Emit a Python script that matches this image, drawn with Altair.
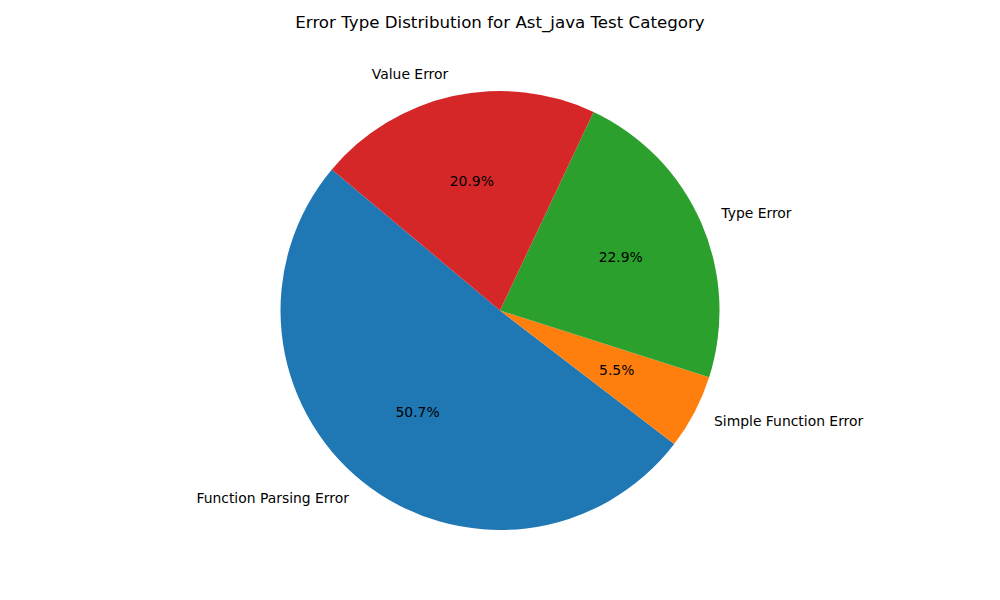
import altair as alt
import pandas as pd

labels = ["Function Parsing Error", "Simple Function Error", "Type Error", "Value Error"]
values = [50.7, 5.5, 22.9, 20.9]
colors = ["#1f77b4", "#ff7f0e", "#2ca02c", "#d62728"]

df = pd.DataFrame({"label": labels, "value": values})

import math
START = 140  # matplotlib start angle (degrees, counterclockwise from 3 o'clock)
r0 = math.radians(90 - START)
theta_scale = alt.Scale(domain=[0, 100], range=[r0 + 2 * math.pi, r0])
R = 219.5
FONT = "DejaVu Sans"

base = (
    alt.Chart(df)
    .transform_window(idx="row_number()")
    .transform_stack(stack="value", as_=["v0", "v1"], groupby=[], sort=[alt.SortField("idx")])
    .transform_calculate(
        mid="(datum.v0 + datum.v1) / 2",
        pct="format(datum.value, '.1f') + '%'",
    )
    .transform_calculate(
        side=f"cos(({START} + 3.6 * datum.mid) * PI / 180) < 0 ? 'left' : 'right'"
    )
)

arcs = base.mark_arc(radius=R, stroke=None).encode(
    theta=alt.Theta("v0:Q", scale=theta_scale),
    theta2="v1:Q",
    color=alt.Color("label:N", scale=alt.Scale(domain=labels, range=colors), legend=None),
)

pct_text = base.mark_text(radius=0.6 * R, font=FONT, fontSize=13.9, color="black",
                          align="center", baseline="middle").encode(
    theta=alt.Theta("mid:Q", scale=theta_scale),
    text="pct:N",
)

left_labels = base.transform_filter("datum.side == 'left'").mark_text(
    radius=1.1 * R, font=FONT, fontSize=13.9, color="black", align="right", baseline="middle"
).encode(theta=alt.Theta("mid:Q", scale=theta_scale), text="label:N")

right_labels = base.transform_filter("datum.side == 'right'").mark_text(
    radius=1.1 * R, font=FONT, fontSize=13.9, color="black", align="left", baseline="middle"
).encode(theta=alt.Theta("mid:Q", scale=theta_scale), text="label:N")

chart = (
    alt.layer(arcs, pct_text, left_labels, right_labels)
    .properties(
        width=984,
        height=523,
        padding={"left": 0, "top": 41, "right": 0, "bottom": 0},
        autosize=alt.AutoSizeParams(type="none"),
        background="white",
        title=alt.TitleParams(
            "Error Type Distribution for Ast_java Test Category",
            font=FONT, fontSize=16.67, fontWeight="normal", color="black",
            anchor="middle", offset=17,
        ),
    )
    .configure_view(stroke=None)
)

chart.save("out.html", embed_options={"renderer": "svg", "actions": False})
